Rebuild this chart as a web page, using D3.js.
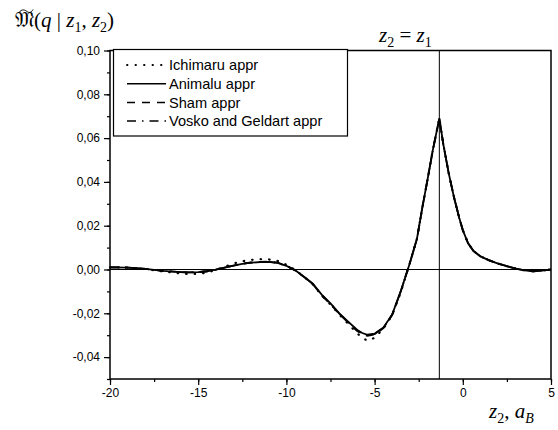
<!DOCTYPE html>
<html>
<head>
<meta charset="utf-8">
<script src="https://cdn.jsdelivr.net/npm/d3@7"></script>
<style>
  body { margin: 0; background: #fff; }
  svg { display: block; }
</style>
</head>
<body>
<svg id="chart"></svg>
<script>
// x positions (z2, a_B) shared by all curves
const zValues = [-20, -19, -18, -17, -16, -15.5, -15, -14.5, -14, -13.5, -13, -12.5, -12, -11.5, -11, -10.5, -10, -9.5, -9, -8.5, -8, -7.5, -7, -6.5, -6, -5.7, -5.4, -5, -4.5, -4, -3.5, -3, -2.6, -2.3, -2, -1.7, -1.33, -1.1, -0.8, -0.5, -0.2, 0, 0.3, 0.6, 1, 1.5, 2, 2.5, 3, 3.5, 4, 4.5, 5]

const ichimaru = [0.0010, 0.0009, 0.0002, -0.0009, -0.0018, -0.0021, -0.0020, -0.0014, -0.0002, 0.0013, 0.0027, 0.0038, 0.0044, 0.0047, 0.0046, 0.0039, 0.0022, -0.0002, -0.0033, -0.0068, -0.0118, -0.0160, -0.0206, -0.0248, -0.0290, -0.0312, -0.0325, -0.0312, -0.0270, -0.0208, -0.0100, 0.0030, 0.0140, 0.0280, 0.0410, 0.0545, 0.0690, 0.0570, 0.0440, 0.0330, 0.0235, 0.0180, 0.0120, 0.0085, 0.0060, 0.0042, 0.0027, 0.0015, 0.0004, -0.0004, -0.0008, -0.0005, 0.0000]

const animalu = [0.0010, 0.0009, 0.0003, -0.0006, -0.0012, -0.0013, -0.0012, -0.0008, -0.0001, 0.0009, 0.0018, 0.0026, 0.0031, 0.0034, 0.0035, 0.0030, 0.0017, -0.0004, -0.0033, -0.0065, -0.0115, -0.0155, -0.0200, -0.0238, -0.0275, -0.0290, -0.0298, -0.0293, -0.0265, -0.0205, -0.0095, 0.0030, 0.0140, 0.0280, 0.0410, 0.0545, 0.0690, 0.0570, 0.0440, 0.0330, 0.0235, 0.0180, 0.0120, 0.0085, 0.0060, 0.0042, 0.0027, 0.0015, 0.0004, -0.0004, -0.0008, -0.0005, 0.0000]

const sham = [0.0010, 0.0009, 0.0003, -0.0006, -0.0012, -0.0013, -0.0012, -0.0008, -0.0001, 0.0009, 0.0018, 0.0027, 0.0032, 0.0035, 0.0036, 0.0031, 0.0018, -0.0004, -0.0034, -0.0067, -0.0118, -0.0158, -0.0203, -0.0242, -0.0280, -0.0296, -0.0303, -0.0297, -0.0268, -0.0207, -0.0096, 0.0030, 0.0140, 0.0280, 0.0410, 0.0545, 0.0688, 0.0570, 0.0440, 0.0330, 0.0235, 0.0180, 0.0120, 0.0085, 0.0060, 0.0042, 0.0027, 0.0015, 0.0004, -0.0004, -0.0008, -0.0005, 0.0000]

const vosko = [0.0010, 0.0009, 0.0003, -0.0006, -0.0012, -0.0013, -0.0012, -0.0008, -0.0001, 0.0009, 0.0018, 0.0026, 0.0031, 0.0034, 0.0035, 0.0030, 0.0017, -0.0004, -0.0034, -0.0066, -0.0116, -0.0157, -0.0202, -0.0240, -0.0278, -0.0293, -0.0300, -0.0295, -0.0266, -0.0206, -0.0096, 0.0030, 0.0140, 0.0280, 0.0410, 0.0545, 0.0689, 0.0570, 0.0440, 0.0330, 0.0235, 0.0180, 0.0120, 0.0085, 0.0060, 0.0042, 0.0027, 0.0015, 0.0004, -0.0004, -0.0008, -0.0005, 0.0000]

const seriesNames = ['Ichimaru appr', 'Animalu appr', 'Sham appr', 'Vosko and Geldart appr']
const xTicks = [-20, -15, -10, -5, 0, 5]
const yTicks = [-0.04, -0.02, 0.00, 0.02, 0.04, 0.06, 0.08, 0.10]
const zEqual = -1.33

// svg container
const w = 558, h = 430
const margin = { top: 50.5, right: 7, bottom: 51, left: 110 }
const svg = d3.select('#chart').attr('width', w).attr('height', h)

const x = d3.scaleLinear().domain([-20, 5]).range([margin.left, w - margin.right])
const y = d3.scaleLinear().domain([-0.05, 0.10]).range([h - margin.bottom, margin.top])

const fmt = d => d3.format('.2f')(d).replace('.', ',').replace('−', '-')
const sans = '"Liberation Sans", Arial, sans-serif'

// axes
const xAxis = svg.append('g').attr('transform', `translate(0,${h - margin.bottom})`)
  .call(d3.axisBottom(x).tickValues(d3.range(-20, 5.01, 2.5)).tickSize(3).tickFormat(''))
xAxis.append('g').call(d3.axisBottom(x).tickValues(xTicks).tickSize(6).tickFormat(d => d))

const yAxis = svg.append('g').attr('transform', `translate(${margin.left},0)`)
  .call(d3.axisLeft(y).tickValues(d3.range(-0.05, 0.1001, 0.01)).tickSize(3).tickFormat(''))
yAxis.append('g').call(d3.axisLeft(y).tickValues(yTicks).tickSize(6).tickFormat(fmt))

svg.selectAll('.domain').remove()
svg.selectAll('.tick line').attr('stroke', '#000').attr('stroke-width', 1.2)
svg.selectAll('.tick text').attr('font-family', sans)
  .attr('font-size', 12).attr('fill', '#000')
yAxis.selectAll('.tick text').attr('x', -10)
xAxis.selectAll('.tick text').attr('y', 9)

// frame
svg.append('rect').attr('x', x(-20)).attr('y', y(0.10))
  .attr('width', x(5) - x(-20)).attr('height', y(-0.05) - y(0.10))
  .attr('fill', 'none').attr('stroke', '#000').attr('stroke-width', 1.5)

// reference lines
svg.append('line').attr('x1', x(-20)).attr('x2', x(5)).attr('y1', y(0)).attr('y2', y(0))
  .attr('stroke', '#000').attr('stroke-width', 1)
svg.append('line').attr('x1', x(zEqual)).attr('x2', x(zEqual)).attr('y1', y(0.10)).attr('y2', y(-0.05))
  .attr('stroke', '#000').attr('stroke-width', 1)

// curves
const dashes = [[0.5, 8], null, [8, 7], [9, 6, 1.5, 6]]
const allSeries = [ichimaru, animalu, sham, vosko]
const line = d3.line().x((d, i) => x(zValues[i])).y(d => y(d)).curve(d3.curveLinear)

svg.selectAll('.curve').data(allSeries).join('path').attr('class', 'curve')
  .attr('d', line).attr('fill', 'none').attr('stroke', '#000')
  .attr('stroke-width', (d, i) => i === 0 ? 2.2 : 1.8)
  .attr('stroke-linecap', (d, i) => i === 0 ? 'round' : 'butt')
  .attr('stroke-dasharray', (d, i) => dashes[i] ? dashes[i].join(',') : null)

// legend
const lg = svg.append('g')
lg.append('rect').attr('x', 113.5).attr('y', 49.5).attr('width', 234).attr('height', 86.5)
  .attr('fill', '#fff').attr('stroke', '#000').attr('stroke-width', 1.2)
const items = lg.selectAll('.item').data(seriesNames).join('g').attr('class', 'item')
  .attr('transform', (d, i) => `translate(0,${65 + i * 18.7})`)
items.append('line').attr('x1', 127).attr('x2', 166).attr('y1', 0).attr('y2', 0)
  .attr('stroke', '#000').attr('stroke-width', (d, i) => i === 0 ? 1.8 : 1.5)
  .attr('stroke-linecap', (d, i) => i === 0 ? 'round' : 'butt')
  .attr('stroke-dasharray', (d, i) => dashes[i] ? dashes[i].join(',') : null)
items.append('text').attr('x', 169).attr('y', 0).attr('dy', '0.36em')
  .attr('font-family', sans).attr('font-size', 14.6)
  .text(d => d)

// math labels
const serif = '"Liberation Serif", "DejaVu Serif", serif'
const t = svg.append('text').attr('x', 15).attr('y', 27).attr('font-family', serif).attr('font-size', 21)
t.append('tspan').text('\u{1D510}')
t.append('tspan').text('(')
t.append('tspan').attr('font-style', 'italic').text('q')
t.append('tspan').text(' | ')
t.append('tspan').attr('font-style', 'italic').text('z')
t.append('tspan').attr('font-size', 14).attr('dy', 5).text('1')
t.append('tspan').attr('dy', -5).text(', ')
t.append('tspan').attr('font-style', 'italic').text('z')
t.append('tspan').attr('font-size', 14).attr('dy', 5).text('2')
t.append('tspan').attr('dy', -5).text(')')
// tilde over the fraktur M, drawn as a small wave
svg.append('path').attr('d', 'M19,12.5 C22,8.5 25,10 27,11.5 C29,13 31,13 33,9.5')
  .attr('fill', 'none').attr('stroke', '#000').attr('stroke-width', 1)

const topLabel = svg.append('text').attr('x', 379).attr('y', 42).attr('font-family', serif).attr('font-size', 21)
topLabel.append('tspan').attr('font-style', 'italic').text('z')
topLabel.append('tspan').attr('font-size', 14).attr('dy', 5).text('2')
topLabel.append('tspan').attr('dy', -5).text(' = ')
topLabel.append('tspan').attr('font-style', 'italic').text('z')
topLabel.append('tspan').attr('font-size', 14).attr('dy', 5).text('1')

const botLabel = svg.append('text').attr('x', 489).attr('y', 418).attr('font-family', serif).attr('font-size', 21)
botLabel.append('tspan').attr('font-style', 'italic').text('z')
botLabel.append('tspan').attr('font-size', 14).attr('dy', 5).text('2')
botLabel.append('tspan').attr('dy', -5).text(', ')
botLabel.append('tspan').attr('font-style', 'italic').text('a')
botLabel.append('tspan').attr('font-size', 14).attr('font-style', 'italic').attr('dy', 5).text('B')
</script>
</body>
</html>
